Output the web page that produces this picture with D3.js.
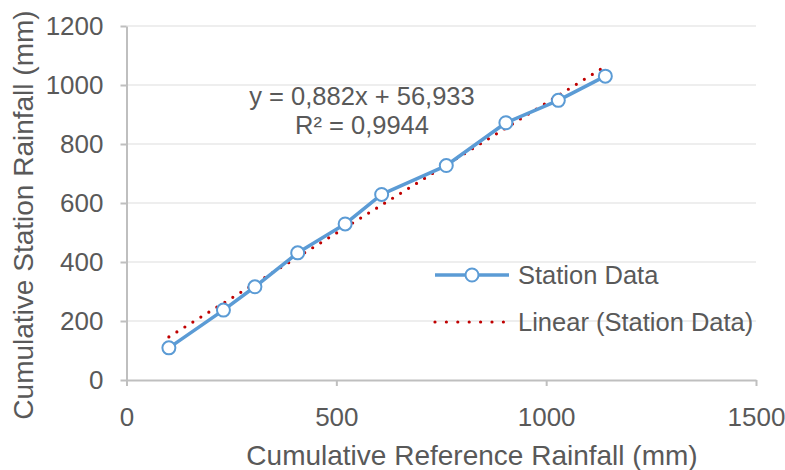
<!DOCTYPE html>
<html>
<head>
<meta charset="utf-8">
<script src="https://cdn.jsdelivr.net/npm/d3@7"></script>
<style>
  html, body { margin: 0; padding: 0; background: #ffffff; }
  svg text { font-family: "Liberation Sans", Arial, sans-serif; fill: #595959; }
</style>
</head>
<body>
<div id="chart"></div>
<script>
// Cumulative rainfall (mm)
const refRainfall = [101, 231, 306, 408, 521, 608, 762, 904, 1029, 1141];
const stationRainfall = [109, 237, 316, 431, 529, 629, 727, 872, 948, 1030];

// Linear trendline as reported on the chart: y = slope * x + intercept
const trendSlope = 0.882;
const trendIntercept = 56.933;
const equationLines = ['y = 0,882x + 56,933', 'R² = 0,9944'];

const xTicks = [0, 500, 1000, 1500];
const yTicks = [0, 200, 400, 600, 800, 1000, 1200];
const legendLabels = ['Station Data', 'Linear (Station Data)'];

const width = 785;
const height = 470;
const margin = { left: 126.5, right: 29, top: 26, bottom: 90 };

const svg = d3.select('#chart')
    .append('svg')
    .attr('width', width)
    .attr('height', height);

const x = d3.scaleLinear()
    .domain([0, 1500])
    .range([margin.left, width - margin.right]);

const y = d3.scaleLinear()
    .domain([0, 1200])
    .range([height - margin.bottom, margin.top]);

// Horizontal gridlines
svg.append('g')
    .selectAll('line')
    .data(yTicks.filter(d => d > 0))
    .enter()
    .append('line')
    .attr('x1', x(0))
    .attr('x2', x(1500))
    .attr('y1', d => y(d))
    .attr('y2', d => y(d))
    .attr('stroke', '#e8e8e8')
    .attr('stroke-width', 1.5);

// Axes
const xAxis = svg.append('g')
    .attr('transform', `translate(0,${y(0)})`)
    .call(d3.axisBottom(x).tickValues(xTicks).tickFormat(d3.format('d'))
        .tickSize(6).tickPadding(22).tickSizeOuter(0));

const yAxis = svg.append('g')
    .attr('transform', `translate(${x(0)},0)`)
    .call(d3.axisLeft(y).tickValues(yTicks).tickFormat(d3.format('d'))
        .tickSize(6).tickPadding(17).tickSizeOuter(0));

[xAxis, yAxis].forEach(ax => {
    ax.select('.domain').attr('stroke', '#bfbfbf').attr('stroke-width', 2);
    ax.selectAll('.tick line').attr('stroke', '#bfbfbf').attr('stroke-width', 2);
    ax.selectAll('.tick text')
        .attr('font-family', '"Liberation Sans", Arial, sans-serif')
        .attr('font-size', 26)
        .attr('fill', '#595959');
});

// Axis titles
svg.append('text')
    .attr('x', 472)
    .attr('y', 465)
    .attr('text-anchor', 'middle')
    .attr('font-size', 28)
    .text('Cumulative Reference Rainfall (mm)');

svg.append('text')
    .attr('transform', 'translate(33,215) rotate(-90)')
    .attr('text-anchor', 'middle')
    .attr('font-size', 28)
    .text('Cumulative Station Rainfall (mm)');

// Trendline (dotted red)
const xExtent = d3.extent(refRainfall);
svg.append('line')
    .attr('x1', x(xExtent[0]))
    .attr('y1', y(trendSlope * xExtent[0] + trendIntercept))
    .attr('x2', x(xExtent[1]))
    .attr('y2', y(trendSlope * xExtent[1] + trendIntercept))
    .attr('stroke', '#c00000')
    .attr('stroke-width', 3.2)
    .attr('stroke-linecap', 'round')
    .attr('stroke-dasharray', '0 9.4');

// Station data series
const points = refRainfall.map((r, i) => ({ x: r, y: stationRainfall[i] }));

svg.append('path')
    .datum(points)
    .attr('d', d3.line().x(d => x(d.x)).y(d => y(d.y)))
    .attr('fill', 'none')
    .attr('stroke', '#5b9bd5')
    .attr('stroke-width', 3.5)
    .attr('stroke-linejoin', 'round');

svg.append('g')
    .selectAll('circle')
    .data(points)
    .enter()
    .append('circle')
    .attr('cx', d => x(d.x))
    .attr('cy', d => y(d.y))
    .attr('r', 6.5)
    .attr('fill', '#ffffff')
    .attr('stroke', '#5b9bd5')
    .attr('stroke-width', 2);

// Trendline equation label
svg.append('g')
    .selectAll('text')
    .data(equationLines)
    .enter()
    .append('text')
    .attr('x', 362)
    .attr('y', (d, i) => 105 + i * 28.5)
    .attr('text-anchor', 'middle')
    .attr('font-size', 25.5)
    .text(d => d);

// Legend
const legend = svg.append('g');
legend.append('line')
    .attr('x1', 435).attr('x2', 509)
    .attr('y1', 275).attr('y2', 275)
    .attr('stroke', '#5b9bd5')
    .attr('stroke-width', 3.5);
legend.append('circle')
    .attr('cx', 472).attr('cy', 275).attr('r', 6.5)
    .attr('fill', '#ffffff')
    .attr('stroke', '#5b9bd5')
    .attr('stroke-width', 2);
legend.append('line')
    .attr('x1', 435).attr('x2', 504)
    .attr('y1', 322).attr('y2', 322)
    .attr('stroke', '#c00000')
    .attr('stroke-width', 3.2)
    .attr('stroke-linecap', 'round')
    .attr('stroke-dasharray', '0 11.4');
legend.selectAll('text.lbl')
    .data(legendLabels)
    .enter()
    .append('text')
    .attr('class', 'lbl')
    .attr('x', 518)
    .attr('y', (d, i) => 275 + i * 47)
    .attr('dy', '0.35em')
    .attr('font-size', 25.5)
    .text(d => d);
</script>
</body>
</html>
